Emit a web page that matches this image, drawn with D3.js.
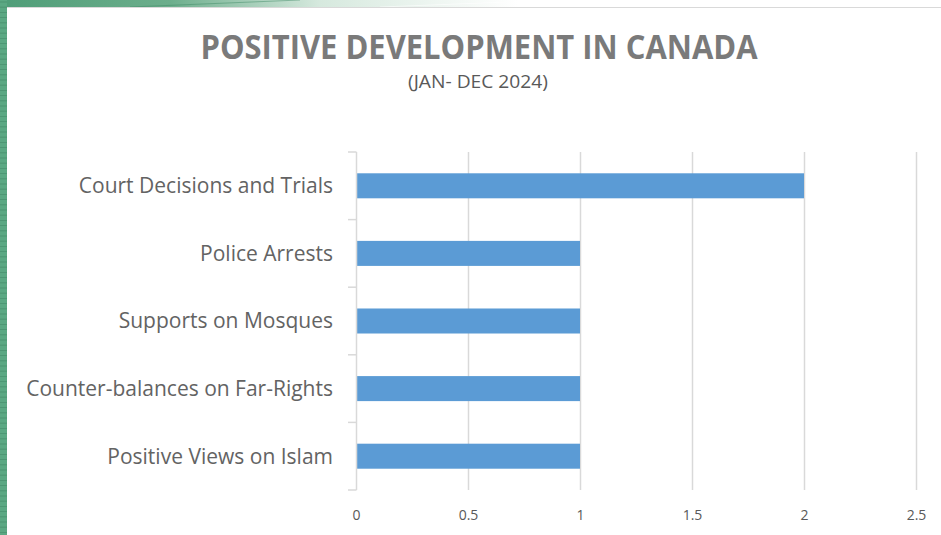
<!DOCTYPE html>
<html>
<head>
<meta charset="utf-8">
<script src="https://cdn.jsdelivr.net/npm/d3@7"></script>
<style>
  html, body { margin: 0; padding: 0; background: #fff; }
  svg { display: block; }
</style>
</head>
<body>
<svg id="chart" width="941" height="535"></svg>
<script>
// Chart data
const categories = [
  "Court Decisions and Trials",
  "Police Arrests ",
  "Supports on Mosques",
  "Counter-balances on Far-Rights",
  "Positive Views on Islam"
];
const values = [2, 1, 1, 1, 1];
const tickValues = [0, 0.5, 1, 1.5, 2, 2.5];
const titleText = "POSITIVE DEVELOPMENT IN CANADA";
const subtitleText = "(JAN- DEC 2024)";

const W = 941, H = 535;
const svg = d3.select("#chart");

// Decorative green frame: left strip with fine horizontal rules, fading top band
const defs = svg.append("defs");
const topGrad = defs.append("linearGradient").attr("id", "topGrad")
  .attr("x1", "0").attr("x2", "1").attr("y1", "0").attr("y2", "0");
topGrad.append("stop").attr("offset", "0").attr("stop-color", "#4f9d78");
topGrad.append("stop").attr("offset", "0.18").attr("stop-color", "#6cae8c");
topGrad.append("stop").attr("offset", "0.34").attr("stop-color", "#d6e9de");
topGrad.append("stop").attr("offset", "0.55").attr("stop-color", "#ffffff");

svg.append("rect").attr("x", 0).attr("y", 0).attr("width", W).attr("height", 8)
  .attr("fill", "url(#topGrad)");
svg.append("line").attr("x1", 130).attr("y1", 7).attr("x2", 300).attr("y2", 0)
  .attr("stroke", "#3f8a66").attr("stroke-width", 0.8).attr("opacity", 0.6);
svg.append("line").attr("x1", 380).attr("y1", 7).attr("x2", 560).attr("y2", 0)
  .attr("stroke", "#ffffff").attr("stroke-width", 0.8).attr("opacity", 0.7);

svg.append("rect").attr("x", 0).attr("y", 0).attr("width", 7).attr("height", H)
  .attr("fill", "#5ba883");
const stripeG = svg.append("g");
d3.range(2, H, 5.2).forEach(y => {
  stripeG.append("line").attr("x1", 0).attr("x2", 7).attr("y1", y).attr("y2", y)
    .attr("stroke", "#3f8463").attr("stroke-width", 0.7).attr("opacity", 0.7);
});

// White chart panel with a faint top border
svg.append("rect").attr("x", 7).attr("y", 7).attr("width", W - 7).attr("height", H - 7)
  .attr("fill", "#ffffff");
svg.append("line").attr("x1", 7).attr("x2", W).attr("y1", 7.5).attr("y2", 7.5)
  .attr("stroke", "#d9d9d9").attr("stroke-width", 1);

// Titles
svg.append("text").attr("x", 479).attr("y", 59).attr("text-anchor", "middle")
  .attr("font-family", "'Open Sans', sans-serif")
  .attr("font-weight", "bold").attr("font-size", 34).attr("fill", "#7a7a7a")
  .attr("textLength", 557).attr("lengthAdjust", "spacingAndGlyphs")
  .text(titleText);
svg.append("text").attr("x", 478).attr("y", 88).attr("text-anchor", "middle")
  .attr("font-family", "'Open Sans', sans-serif")
  .attr("font-size", 18).attr("fill", "#595959")
  .attr("textLength", 140).attr("lengthAdjust", "spacingAndGlyphs")
  .text(subtitleText);

// Plot geometry
const margin = { left: 356, right: 25, top: 152, bottom: 45 };
const x = d3.scaleLinear().domain([0, 2.5]).range([margin.left, W - margin.right]);
const y = d3.scaleBand().domain(categories).range([margin.top, H - margin.bottom])
  .paddingInner(0.63).paddingOuter(0.315);

const font = "'Open Sans', sans-serif";

// Vertical gridlines
svg.append("g").selectAll("line").data(tickValues.filter(t => t > 0)).join("line")
  .attr("x1", d => x(d) + 0.5).attr("x2", d => x(d) + 0.5)
  .attr("y1", margin.top).attr("y2", H - margin.bottom)
  .attr("stroke", "#d9d9d9").attr("stroke-width", 1.5);

// Bars
svg.append("g").selectAll("rect").data(categories).join("rect")
  .attr("x", x(0) + 1)
  .attr("y", d => y(d))
  .attr("width", (d, i) => x(values[i]) - x(0) - 1)
  .attr("height", y.bandwidth())
  .attr("fill", "#5b9bd5");

// Category axis: vertical line with ticks at band boundaries
const boundaries = d3.range(categories.length + 1).map(i => margin.top + i * (H - margin.top - margin.bottom) / categories.length);
const yAxisG = svg.append("g");
yAxisG.append("line").attr("x1", x(0) + 0.5).attr("x2", x(0) + 0.5)
  .attr("y1", margin.top).attr("y2", H - margin.bottom)
  .attr("stroke", "#d9d9d9").attr("stroke-width", 1.5);
yAxisG.selectAll("line.tick").data(boundaries).join("line").attr("class", "tick")
  .attr("x1", x(0) - 8).attr("x2", x(0) + 0.5)
  .attr("y1", d => d).attr("y2", d => d)
  .attr("stroke", "#d9d9d9").attr("stroke-width", 1.5);

// Category labels
svg.append("g").selectAll("text").data(categories).join("text")
  .attr("x", 333).attr("y", d => y(d) + y.bandwidth() / 2)
  .attr("dy", "0.35em").attr("text-anchor", "end")
  .attr("font-family", font).attr("font-size", 21).attr("fill", "#636363")
  .text(d => d.trim());

// Value axis labels
const xAxis = d3.axisBottom(x).tickValues(tickValues).tickSize(0).tickPadding(0)
  .tickFormat(d3.format("~g"));
const xAxisG = svg.append("g").attr("transform", `translate(0, 520)`).call(xAxis);
xAxisG.select(".domain").remove();
xAxisG.selectAll("text").attr("y", 0).attr("dy", 0)
  .attr("font-family", font).attr("font-size", 14).attr("fill", "#595959");
</script>
</body>
</html>
